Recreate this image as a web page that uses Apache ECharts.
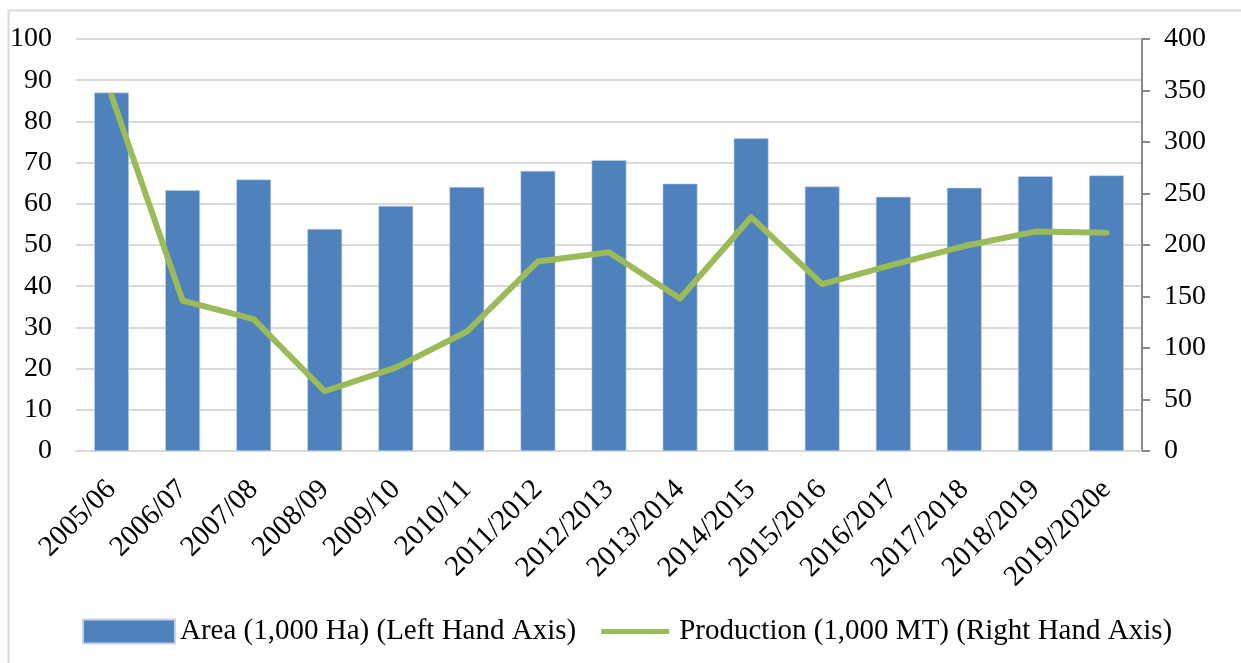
<!DOCTYPE html>
<html>
<head>
<meta charset="utf-8">
<script src="https://cdn.jsdelivr.net/npm/echarts@6/dist/echarts.min.js"></script>
<style>
  html, body { margin: 0; padding: 0; background: #fff; }
  #chart { width: 1241px; height: 663px; }
</style>
</head>
<body>
<div id="chart"></div>
<script>
// Campagnes et valeurs
var seasons = ['2005/06', '2006/07', '2007/08', '2008/09', '2009/10', '2010/11', '2011/2012',
    '2012/2013', '2013/2014', '2014/2015', '2015/2016', '2016/2017', '2017/2018', '2018/2019', '2019/2020e'];
var areaValues = [87.0, 63.3, 65.9, 53.9, 59.5, 64.1, 68.0, 70.6, 64.9, 75.9, 64.2, 61.7, 63.9, 66.7, 66.9];
var productionValues = [345, 146, 128, 58, 81, 116, 184, 193, 148, 227, 162, 181, 199, 213, 212];

var chartDom = document.getElementById('chart');
var myChart = echarts.init(chartDom);

var font = 'Liberation Serif, Times New Roman, serif';

var option = {
    animation: false,
    textStyle: { fontFamily: font, color: '#000' },
    // cadre gris autour du graphique
    graphic: [{
        type: 'rect',
        shape: { x: 8.5, y: 10.5, width: 1400, height: 800 },
        style: { fill: 'none', stroke: '#d9d9d9', lineWidth: 2 },
        silent: true
    }],
    grid: { left: 76, right: 99, top: 39, bottom: 212 },
    legend: {
        bottom: 12,
        left: 77,
        itemWidth: 92,
        itemHeight: 24,
        itemGap: 6,
        textStyle: { fontFamily: font, fontSize: 29, color: '#000' },
        data: [
            { name: 'Area (1,000 Ha) (Left Hand Axis)', icon: 'rect' },
            // trait fin (les M élargissent la boîte de l'icône)
            { name: 'Production (1,000 MT) (Right Hand Axis)', icon: 'path://M0,0 M19,9.5 L87,9.5 L87,14.5 L19,14.5 Z M92,24' }
        ]
    },
    xAxis: {
        type: 'category',
        data: seasons,
        axisLine: { lineStyle: { color: '#d9d9d9', width: 2 } },
        axisTick: { show: false },
        axisLabel: { rotate: 45, fontSize: 29, margin: 34, color: '#000', fontFamily: font, interval: 0 }
    },
    yAxis: [
        {
            type: 'value', min: 0, max: 100, interval: 10,
            axisLine: { show: false },
            axisTick: { show: false },
            axisLabel: { fontSize: 28, margin: 24, color: '#000', fontFamily: font },
            splitLine: { lineStyle: { color: '#d9d9d9', width: 2 } }
        },
        {
            type: 'value', min: 0, max: 400, interval: 50,
            position: 'right',
            axisLine: { show: true, lineStyle: { color: '#898989', width: 2 } },
            axisTick: { show: true, length: 8, lineStyle: { color: '#898989', width: 2 } },
            axisLabel: { fontSize: 28, margin: 22, color: '#000', fontFamily: font },
            splitLine: { show: false }
        }
    ],
    series: [
        {
            name: 'Area (1,000 Ha) (Left Hand Axis)',
            type: 'bar',
            data: areaValues,
            barWidth: '49%',
            itemStyle: { color: '#4f81bd', borderColor: '#c6d4ea', borderWidth: 0.6 }
        },
        {
            name: 'Production (1,000 MT) (Right Hand Axis)',
            type: 'line',
            yAxisIndex: 1,
            data: productionValues,
            showSymbol: false,
            symbol: 'none',
            lineStyle: { color: '#9bbb59', width: 6, cap: 'round', join: 'round' },
            itemStyle: { color: '#9bbb59' }
        }
    ]
};

myChart.setOption(option);
window.addEventListener('resize', () => myChart.resize());
</script>
</body>
</html>
